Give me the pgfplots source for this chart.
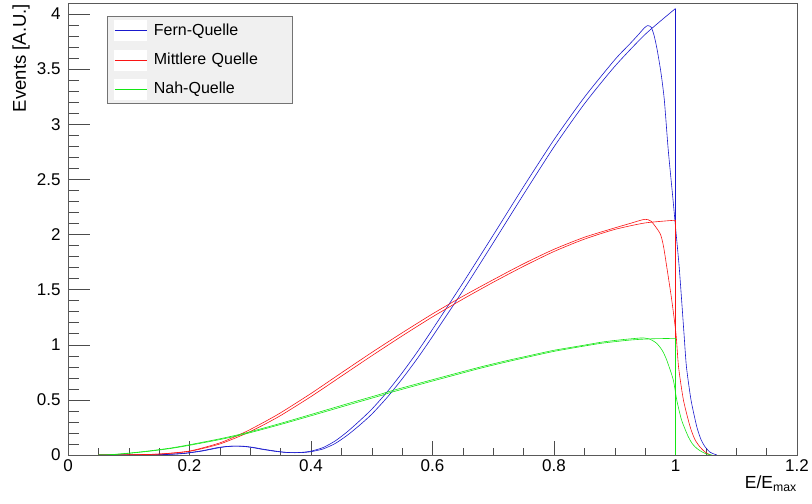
\documentclass[border=0pt]{standalone}
\usepackage{pgfplots}
\pgfplotsset{compat=1.18}
\usepackage{pgfplotstable}
\usepackage{fontspec}
\setmainfont{Liberation Sans}
\definecolor{cblue}{RGB}{25,25,205}
\definecolor{cred}{RGB}{250,20,20}
\definecolor{cgreen}{RGB}{20,230,20}

\pgfplotstableread{
x y
0.05 0
0.13 0
0.16 0.004
0.19 0.013
0.22 0.035
0.245 0.062
0.26 0.075
0.275 0.081
0.29 0.079
0.305 0.069
0.32 0.054
0.34 0.037
0.355 0.026
0.37 0.021
0.385 0.022
0.40 0.030
0.42 0.055
0.44 0.105
0.46 0.18
0.48 0.27
0.50 0.37
0.525 0.52
0.55 0.69
0.575 0.875
0.60 1.075
0.65 1.49
0.70 1.925
0.75 2.365
0.80 2.795
0.85 3.185
0.90 3.525
0.95 3.815
1.00 4.05
}\blueS

\pgfplotstableread{
x y
1.00 4.05
1.00 0
1.20 0
}\blueT

\pgfplotstableread{
x y
0.05 0
0.13 0
0.16 0.005
0.19 0.015
0.22 0.038
0.245 0.066
0.26 0.077
0.275 0.081
0.29 0.077
0.305 0.066
0.32 0.051
0.34 0.034
0.355 0.025
0.37 0.021
0.385 0.024
0.40 0.035
0.42 0.068
0.44 0.128
0.46 0.212
0.48 0.31
0.50 0.415
0.525 0.57
0.55 0.745
0.575 0.935
0.60 1.14
0.65 1.56
0.70 1.995
0.75 2.435
0.80 2.86
0.85 3.245
0.90 3.585
0.925 3.73
0.94 3.82
0.948 3.87
0.954 3.895
0.960 3.88
0.965 3.80
0.970 3.67
0.976 3.47
0.9816 3.22
0.988 2.77
0.996 2.31
1.001 2.01
1.006 1.71
1.010 1.41
1.014 1.10
1.018 0.80
1.0255 0.50
1.035 0.257
1.042 0.14
1.0486 0.075
1.057 0.025
1.068 0
}\blueM

\pgfplotstableread{
x y
0.05 0
0.10 0.001
0.15 0.008
0.20 0.033
0.25 0.10
0.291 0.19
0.32 0.268
0.35 0.358
0.40 0.53
0.45 0.715
0.50 0.90
0.55 1.08
0.60 1.253
0.65 1.414
0.70 1.567
0.75 1.712
0.80 1.846
0.85 1.958
0.90 2.046
0.95 2.105
1.00 2.13
}\redS

\pgfplotstableread{
x y
1.00 2.13
1.00 0
1.20 0
}\redT

\pgfplotstableread{
x y
0.05 0
0.10 0.002
0.15 0.009
0.20 0.036
0.25 0.11
0.291 0.207
0.32 0.29
0.35 0.383
0.40 0.558
0.45 0.745
0.50 0.93
0.55 1.108
0.60 1.28
0.65 1.44
0.70 1.59
0.75 1.735
0.80 1.866
0.85 1.975
0.90 2.06
0.925 2.10
0.94 2.125
0.95 2.138
0.96 2.12
0.9745 2.01
0.98 1.90
0.9855 1.71
0.9937 1.41
1.0008 1.10
1.005 0.80
1.013 0.50
1.024 0.257
1.032 0.14
1.040 0.075
1.048 0.03
1.057 0
}\redM

\pgfplotstableread{
x y
0.05 0
0.07 0.002
0.10 0.015
0.135 0.035
0.17 0.06
0.20 0.088
0.25 0.14
0.291 0.19
0.35 0.277
0.409 0.37
0.46 0.452
0.5136 0.537
0.533 0.570
0.596 0.665
0.64 0.73
0.678 0.786
0.72 0.842
0.76 0.892
0.80 0.94
0.843 0.982
0.88 1.015
0.926 1.043
0.96 1.054
1.00 1.058
}\greenS

\pgfplotstableread{
x y
1.00 1.058
1.00 0
1.20 0
}\greenT

\pgfplotstableread{
x y
0.05 0
0.07 0.003
0.10 0.017
0.135 0.038
0.17 0.064
0.20 0.093
0.25 0.147
0.291 0.198
0.35 0.287
0.409 0.382
0.46 0.465
0.5136 0.55
0.533 0.583
0.596 0.677
0.64 0.742
0.678 0.797
0.72 0.853
0.76 0.902
0.80 0.95
0.843 0.99
0.88 1.025
0.91 1.045
0.935 1.058
0.947 1.062
0.958 1.05
0.969 1.013
0.978 0.95
0.9855 0.862
0.9964 0.68
1.002 0.50
1.010 0.317
1.021 0.166
1.028 0.10
1.035 0.06
1.043 0.03
1.051 0.01
1.06 0
}\greenM

\begin{document}
\begin{tikzpicture}
\begin{axis}[
  scale only axis,
  width=729bp, height=452bp,
  xmin=0, xmax=1.2, ymin=0, ymax=4.1,
  axis line style={black!65, line width=0.6bp},
  tick pos=left,
  tick align=inside,
  xtick={0,0.2,0.4,0.6,0.8,1.0,1.2},
  ytick={0,0.5,1,1.5,2,2.5,3,3.5,4},
  minor x tick num=3,
  minor y tick num=4,
  major tick length=22bp,
  minor tick length=11bp,
  tick style={black!70, line width=0.5bp},
  xtick style={/pgfplots/major tick length=13.5bp, /pgfplots/minor tick length=6.7bp},
  /pgf/number format/assume math mode=true,
  /pgf/number format/fixed,
  ticklabel style={font=\fontsize{17bp}{20bp}\selectfont},
  yticklabel style={xshift=-4bp},
  xticklabel style={yshift=-1bp},
  xlabel={E/E\textsubscript{max}},
  ylabel={Events [A.U.]},
  xlabel style={at={(rel axis cs:1,-0.0465)}, anchor=north east, inner sep=0pt, font=\fontsize{17.5bp}{20bp}\selectfont},
  ylabel style={at={(rel axis cs:-0.0521,0.9978)}, anchor=south east, inner sep=0pt, font=\fontsize{18.5bp}{21bp}\selectfont},
  legend style={at={(0.0535,0.971)}, anchor=north west, fill=black!6, draw=black!55, line width=0.6bp,
    inner xsep=7bp, inner ysep=4bp, row sep=8.5bp,
    font=\fontsize{16bp}{19bp}\selectfont,
    nodes={inner sep=0pt},
    /tikz/every odd column/.append style={column sep=7bp},
    /tikz/every even column/.append style={text width=131bp, align=left}},
  legend cell align=left,
  legend image code/.code={\fill[white] (0bp,-10bp) rectangle (32bp,10bp); \draw[#1,line width=0.5bp] (0bp,0bp) -- (32bp,0bp);},
]
\addplot[cblue, line width=0.6bp, smooth, tension=0.4] table[x=x,y=y] {\blueS};
\addlegendentry{Fern-Quelle}
\addplot[cblue, line width=0.6bp, forget plot] table[x=x,y=y] {\blueT};
\addplot[cblue, line width=0.6bp, smooth, tension=0.4, forget plot] table[x=x,y=y] {\blueM};
\addplot[cred, line width=0.6bp, smooth, tension=0.4] table[x=x,y=y] {\redS};
\addlegendentry{Mittlere Quelle}
\addplot[cred, line width=0.6bp, forget plot] table[x=x,y=y] {\redT};
\addplot[cred, line width=0.6bp, smooth, tension=0.4, forget plot] table[x=x,y=y] {\redM};
\addplot[cgreen, line width=0.6bp, smooth, tension=0.4] table[x=x,y=y] {\greenS};
\addlegendentry{Nah-Quelle}
\addplot[cgreen, line width=0.6bp, forget plot] table[x=x,y=y] {\greenT};
\addplot[cgreen, line width=0.6bp, smooth, tension=0.4, forget plot] table[x=x,y=y] {\greenM};
\end{axis}
\pgfresetboundingbox
\path (current axis.south west) ++(-68bp,-49bp) rectangle ++(812bp,504bp);
\end{tikzpicture}
\end{document}
